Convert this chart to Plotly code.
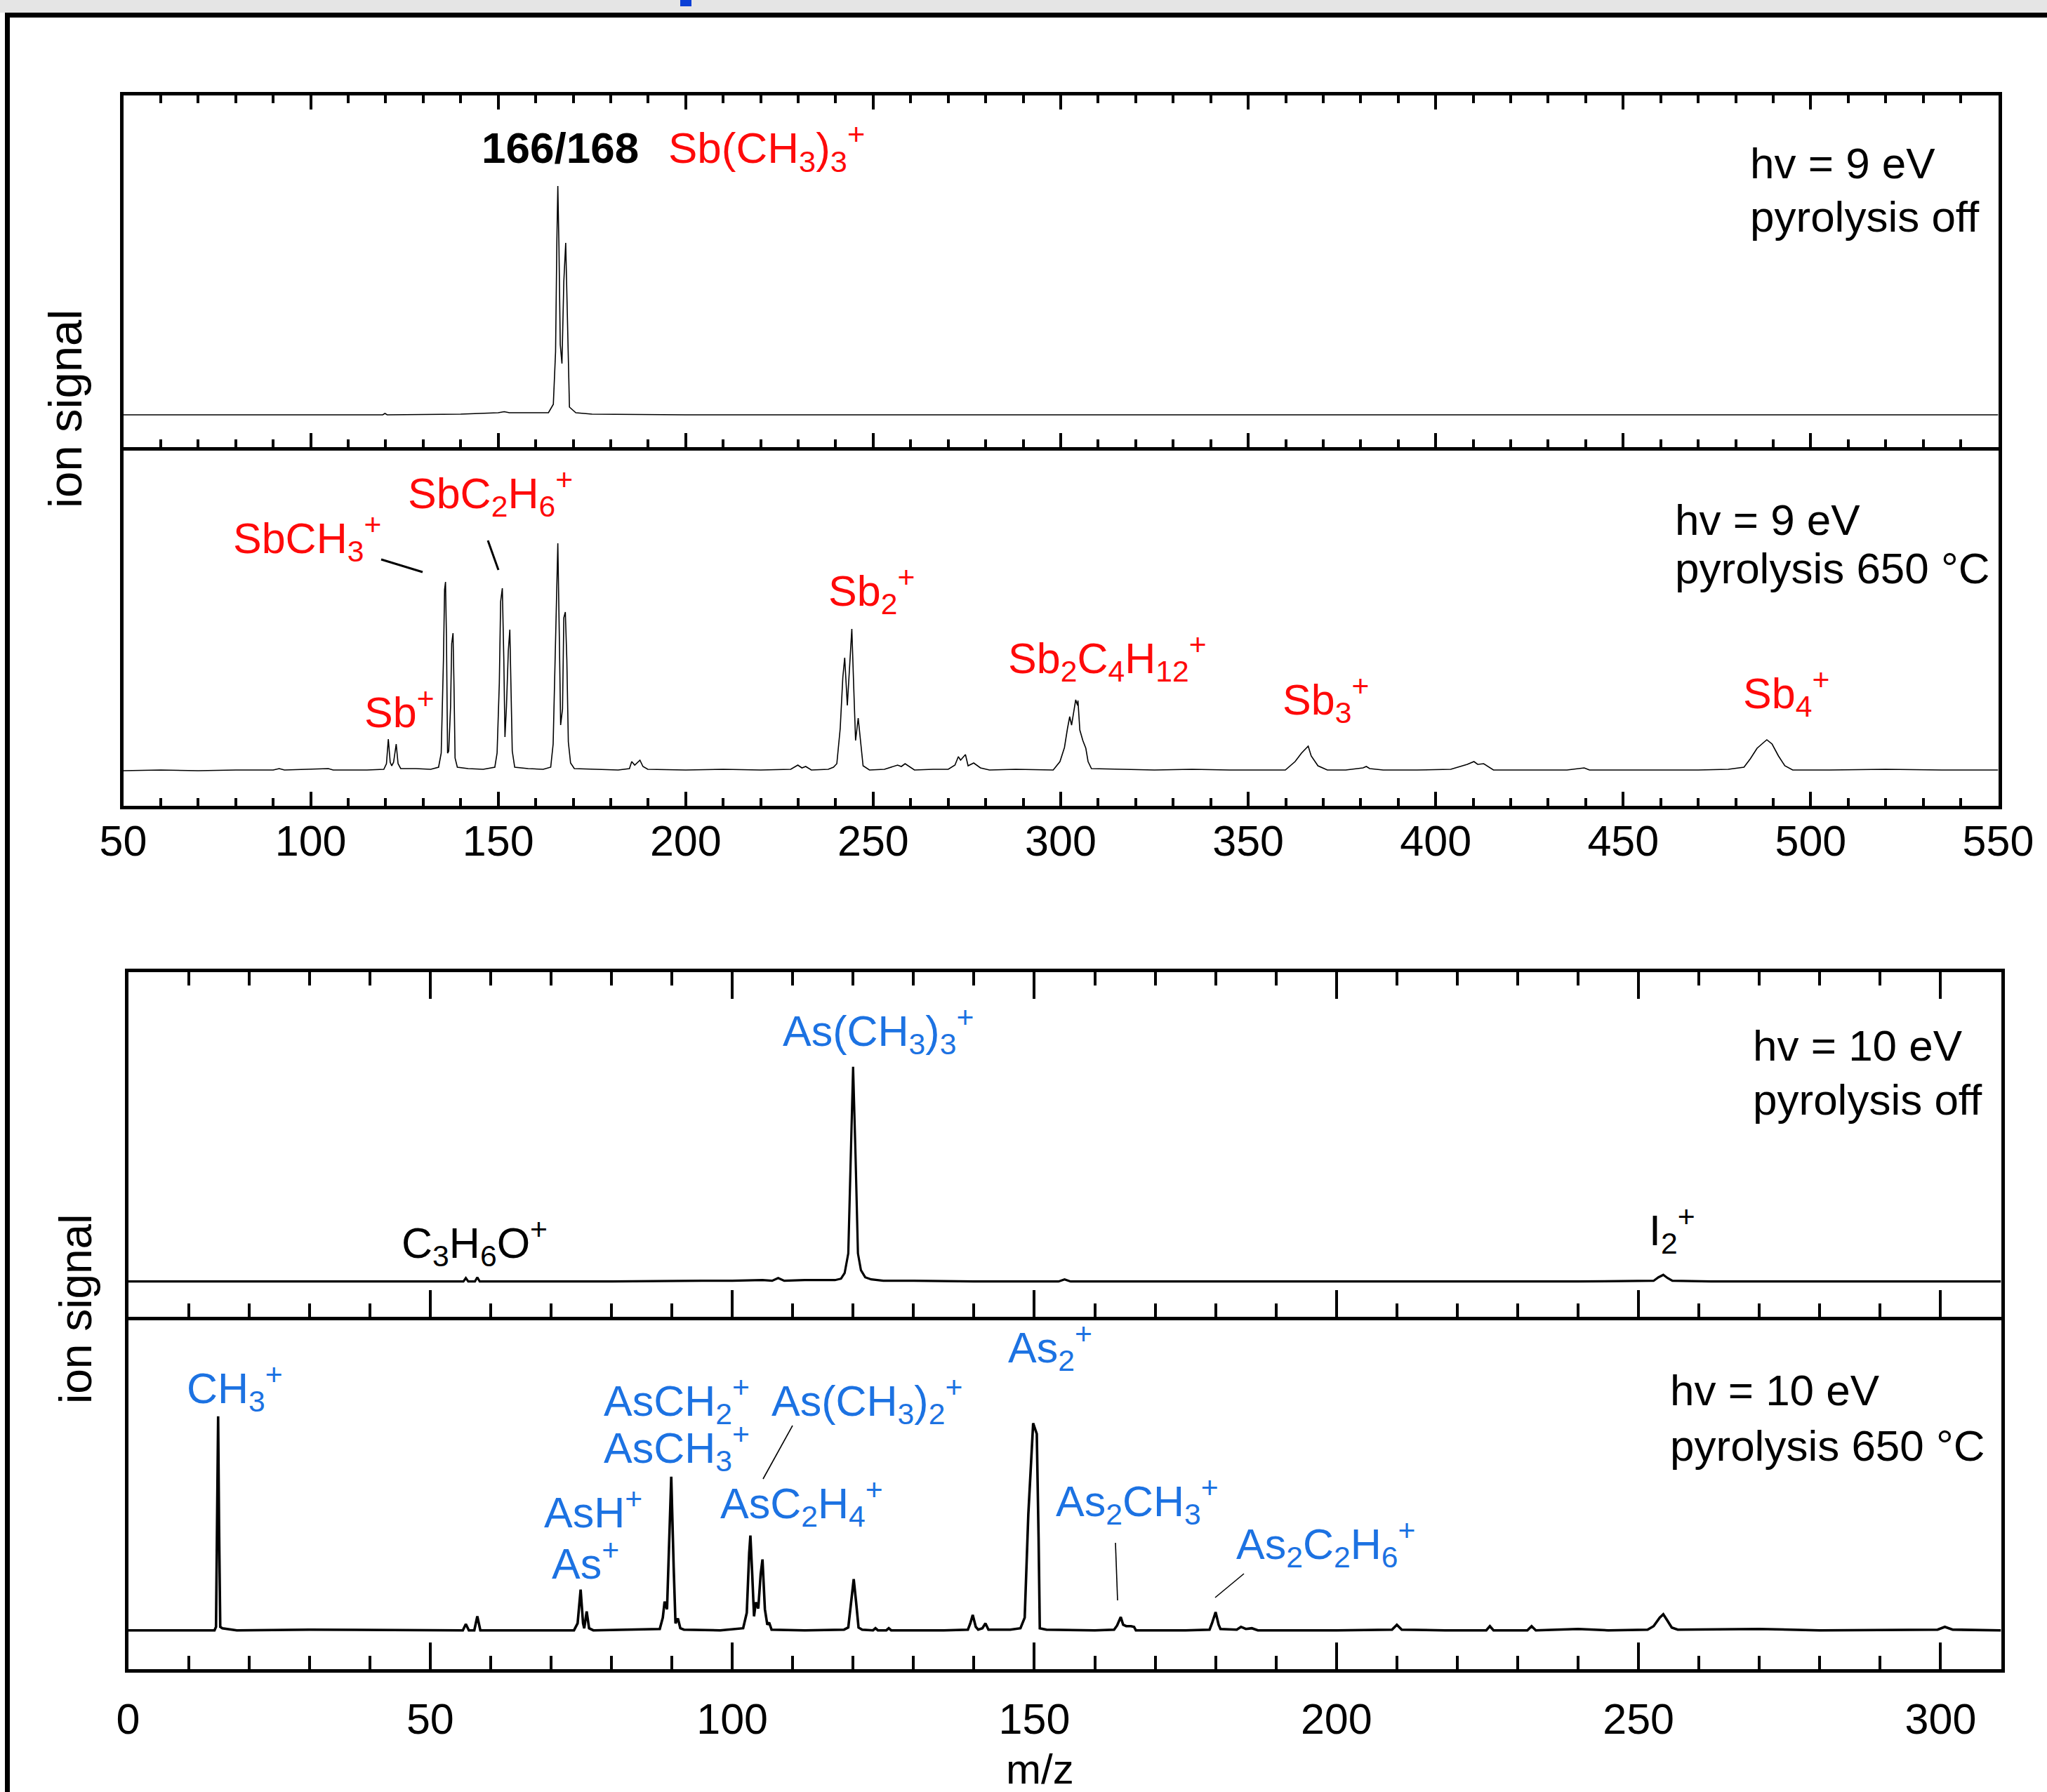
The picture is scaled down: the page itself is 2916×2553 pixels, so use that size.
import plotly.graph_objects as go

# ---------------- data (ion signal, arbitrary units, baseline = 0) ----------------
# Sb(CH3)3, hv = 9 eV, pyrolysis off
sb_off_mz = [50, 100, 119.2, 119.8, 120.4, 140, 146, 150, 151.6, 153, 160, 163.4, 164.7, 165.3,
             165.65, 165.9, 166.2, 166.55, 167.0, 167.5, 168.0, 168.4, 169.0, 170.7, 175, 200, 550]
sb_off_sig = [0, 0, 0, 2, 0, 1, 2, 3, 4.5, 3, 3, 3, 15, 90,
              250, 326, 240, 100, 73, 190, 245, 150, 11, 3, 1, 0, 0]

# Sb(CH3)3, hv = 9 eV, pyrolysis 650 C
sb_650_mz = [50, 60, 70, 80, 90, 91.6, 93, 104.7, 106, 115, 119.5,
             120.2, 120.7, 121.2, 121.6, 122.1, 122.8, 123.3, 124,
             128, 132, 134.1, 134.8, 135.4, 135.7, 135.95, 136.2, 136.5, 136.8, 137.3, 137.6, 137.95, 138.2, 138.5, 139.1,
             142, 146, 149.1, 149.7, 150.3, 150.65, 151.1, 151.5, 151.8, 152.2, 152.7, 153.1, 153.4, 153.75, 154.4,
             158, 162, 164.0, 164.65, 165.3, 165.9, 166.3, 166.65, 167.15, 167.5, 167.9, 168.3, 168.7, 169.3, 170.3,
             176, 182, 185, 185.6, 186.4, 187.8, 188.6, 189.9,
             200, 210, 220, 228, 229.9, 231, 232, 233.5,
             238, 239.4, 240.3, 241.2, 241.9, 242.4, 243.1, 243.7, 244.3, 244.8, 245.3, 246.0, 246.6, 247.3, 249,
             253, 256.5, 257.5, 258.5, 259.3, 261, 266, 270, 271.8, 272.7, 273.3, 274.6, 275.3, 276.8, 278.6, 281,
             288, 294, 298, 299.8, 301, 301.8, 302.4, 302.9, 304.0, 304.5, 304.6, 305.1, 305.9, 306.7, 307.3, 308.2,
             315, 325, 335, 345, 355, 359.9, 362.5, 364.2, 366.0, 366.8, 368.6, 371.1,
             376, 380.6, 381.5, 382.4, 386, 395, 404, 408.4, 410.2, 411.2, 412.8, 415.4,
             425, 435, 439.6, 441, 455, 470, 478, 482.2, 483.9, 485.7, 487.4, 488.3, 489.7, 491.4, 493.1, 495.2,
             505, 520, 535, 550]
sb_650_sig = [0, 1, 0, 1, 1, 3, 1, 3, 1, 1, 2,
              10, 45, 12, 7, 12, 38, 10, 3,
              3, 2, 5, 25, 158, 258, 269, 191, 25, 28, 91, 181, 196, 125, 18, 5,
              3, 2, 5, 25, 125, 241, 260, 158, 48, 91, 171, 201, 125, 28, 5,
              3, 2, 5, 38, 191, 324, 191, 65, 88, 218, 226, 158, 41, 11, 3,
              2, 1, 3, 13, 8, 15, 6, 2,
              1, 2, 1, 2, 8, 4, 6, 1,
              2, 5, 10, 60, 133, 161, 93, 150, 202, 120, 43, 75, 40, 7, 1,
              2, 8, 6, 10, 7, 1, 2, 2, 8, 20, 15, 23, 7, 11, 4, 1,
              2, 1, 1, 13, 33, 60, 77, 65, 101, 93, 100, 58, 43, 32, 13, 3,
              2, 1, 2, 1, 1, 1, 13, 25, 35, 21, 7, 1,
              1, 4, 6, 3, 1, 1, 2, 9, 13, 9, 10, 1,
              1, 1, 4, 1, 1, 1, 2, 5, 17, 32, 40, 44, 38, 21, 7, 1,
              1, 2, 1, 1]

# As(CH3)3, hv = 10 eV, pyrolysis off
as_off_mz = [0, 30, 55.5, 55.9, 56.3, 57.4, 57.8, 58.2, 80, 95, 100, 105, 106.6, 107.6, 108.6, 112, 116,
             117.0, 118.0, 118.6, 119.2, 119.6, 120.0, 120.4, 120.8, 121.3, 122.0, 123, 125, 130, 140,
             154, 155, 156, 200, 240, 252.5, 253.3, 254.1, 254.8, 255.6, 262, 310]
as_off_sig = [0, 0, 0, 5, 0, 0, 6, 0, 0, 1, 1, 2, 1, 5, 1, 2, 2,
              2, 4, 12, 40, 180, 306, 180, 40, 16, 6, 3, 1, 1, 0,
              0, 3, 0, 0, 0, 1, 6, 9.5, 5, 1, 0, 0]

# As(CH3)3, hv = 10 eV, pyrolysis 650 C
as_650_mz = [0, 10, 14.3, 14.55, 14.75, 14.9, 15.05, 15.25, 15.6, 16.5, 18, 30, 45,
             55.4, 55.9, 56.4, 57.3, 57.8, 58.3, 66,
             73.8, 74.4, 74.9, 75.3, 75.5, 75.9, 76.3, 77, 85,
             88.0, 88.5, 88.8, 89.2, 89.6, 89.9, 90.3, 90.6, 91.0, 91.4, 92, 98,
             101.8, 102.4, 102.8, 103.0, 103.3, 103.6, 103.9, 104.3, 104.7, 105.0, 105.4, 105.8, 106.1, 106.5, 112,
             118.5, 119.2, 119.7, 120.1, 120.5, 120.9, 121.5, 123.3, 123.7, 124.1, 125.5, 125.9, 126.3, 135,
             139.0, 139.4, 139.8, 140.3, 140.7, 141.4, 141.9, 142.4, 146,
             147.7, 148.4, 149.0, 149.8, 150.4, 150.7, 150.9, 152, 160,
             163.2, 163.7, 164.3, 164.7, 165.2, 166.0, 166.5, 166.8, 175,
             179.0, 179.4, 180.0, 180.5, 180.8, 183.5, 184.2, 185, 186, 187, 200,
             209.2, 210, 210.8, 218, 224.8, 225.4, 226, 231.6, 232.3, 233, 240, 245,
             251.5, 252.5, 253.5, 254.1, 254.7, 255.5, 256.5, 270, 280, 299.5, 300.7, 302, 310]
as_650_sig = [0, 0, 0, 5, 150, 305, 150, 5, 3, 2, 0, 1, 0,
              0, 9, 0, 0, 20, 0, 0,
              0, 10, 58, 10, 3, 27, 3, 0, 1,
              2, 18, 41, 30, 150, 219, 90, 10, 17, 3, 1, 0,
              3, 25, 110, 135, 80, 20, 40, 31, 80, 101, 30, 8, 11, 1, 0,
              1, 4, 40, 73, 40, 4, 1, 0, 3, 0, 0, 3, 0, 0,
              1, 10, 22, 5, 1, 3, 10, 1, 1,
              3, 18, 165, 295, 280, 132, 3, 1, 0,
              1, 7, 19, 8, 6, 6, 5, 0, 0,
              1, 10, 26, 8, 2, 1, 5, 2, 3, 0, 0,
              1, 8, 1, 0, 0, 6, 0, 0, 6, 0, 2, 0,
              1, 6, 18, 23, 15, 4, 1, 2, 0, 1, 5, 1, 0]

sb_ticks = [50, 100, 150, 200, 250, 300, 350, 400, 450, 500, 550]
as_ticks = [0, 50, 100, 150, 200, 250, 300]

# ---------------- layout helpers ----------------
W, H = 2916, 2553
FONT = "Liberation Sans, Arial, sans-serif"
RED = "#fe0a0a"
BLUE = "#1c72e2"
LW = 5


def px(x):
    return x / W


def py(y):
    return 1 - y / H


# frame line centres (pixels)
SB_L, SB_R, SB_T, SB_M, SB_B = 173, 2849, 133, 639, 1150
AS_L, AS_R, AS_T, AS_M, AS_B = 180, 2853, 1382, 1878, 2380
h = LW / 2

fig = go.Figure()
fig.add_trace(go.Scatter(x=sb_off_mz, y=sb_off_sig, mode="lines", line=dict(color="black", width=1.6),
                         xaxis="x", yaxis="y", showlegend=False, hoverinfo="skip"))
fig.add_trace(go.Scatter(x=sb_650_mz, y=sb_650_sig, mode="lines", line=dict(color="black", width=1.6),
                         xaxis="x2", yaxis="y2", showlegend=False, hoverinfo="skip"))
fig.add_trace(go.Scatter(x=as_off_mz, y=as_off_sig, mode="lines", line=dict(color="black", width=3.2),
                         xaxis="x3", yaxis="y3", showlegend=False, hoverinfo="skip"))
fig.add_trace(go.Scatter(x=as_650_mz, y=as_650_sig, mode="lines", line=dict(color="black", width=3.6),
                         xaxis="x4", yaxis="y4", showlegend=False, hoverinfo="skip"))


def xax(dom, rng, ticks, show_labels, mirror, major_len, minor_len, standoff):
    d = dict(domain=dom, range=rng, showgrid=False, zeroline=False, showline=True, linecolor="black",
             linewidth=LW, mirror=mirror, ticks="inside", ticklen=major_len, tickwidth=4, tickcolor="black",
             tickvals=ticks, showticklabels=show_labels, automargin=False,
             tickfont=dict(family=FONT, size=61, color="black"),
             minor=dict(ticks="inside", ticklen=minor_len, tickwidth=3.5, tickcolor="black",
                        dtick=10, tick0=0, showgrid=False))
    if show_labels:
        d["ticklabelstandoff"] = standoff
    return d


def yax(top_px, bot_px, base_px):
    t = top_px
    b = bot_px
    return dict(domain=[py(b), py(t)], range=[-(b - base_px), base_px - t], showgrid=False, zeroline=False,
                showline=True, linecolor="black", linewidth=LW, mirror=True, ticks="", showticklabels=False,
                automargin=False)


sb_xdom = [px(SB_L + h), px(SB_R - h)]
as_xdom = [px(AS_L + h), px(AS_R - h)]

layout = dict(
    width=W, height=H, margin=dict(l=0, r=0, t=0, b=0, pad=0, autoexpand=False),
    paper_bgcolor="white", plot_bgcolor="rgba(0,0,0,0)", showlegend=False,
    font=dict(family=FONT, color="black"),
    xaxis=xax(sb_xdom, [50, 550], sb_ticks, False, "ticks", 20, 11, 0),
    xaxis2=xax(sb_xdom, [50, 550], sb_ticks, True, False, 20, 11, -7),
    xaxis3=xax(as_xdom, [0, 310], as_ticks, False, "ticks", 38, 19, 0),
    xaxis4=xax(as_xdom, [0, 310], as_ticks, True, False, 38, 19, 14),
    yaxis=yax(SB_T + h, SB_M - h, 591),
    yaxis2=yax(SB_M + h, SB_B - h, 1098),
    yaxis3=yax(AS_T + h, AS_M - h, 1825.7),
    yaxis4=yax(AS_M + h, AS_B - h, 2322.7),
)
layout["xaxis"]["anchor"] = "y"
layout["xaxis2"]["anchor"] = "y2"
layout["xaxis3"]["anchor"] = "y3"
layout["xaxis4"]["anchor"] = "y4"
layout["yaxis"]["anchor"] = "x"
layout["yaxis2"]["anchor"] = "x2"
layout["yaxis3"]["anchor"] = "x3"
layout["yaxis4"]["anchor"] = "x4"
fig.update_layout(**layout)

anns = []


def lab(text, x_left, y_base, size=61, color="black"):
    anns.append(dict(text=text, x=px(x_left), y=py(y_base - 0.3465 * size), xref="paper", yref="paper",
                     xanchor="left", yanchor="middle", showarrow=False,
                     font=dict(family=FONT, size=size, color=color)))


# Sb, pyrolysis off
lab("<b>166/168</b>", 684, 232, 62)
lab("Sb(CH<sub>3</sub>)<sub>3</sub><sup>+</sup>", 950, 232, 62, RED)
lab("hv = 9 eV", 2491, 254, 62)
lab("pyrolysis off", 2491, 330, 62)
# Sb, pyrolysis 650
lab("SbCH<sub>3</sub><sup>+</sup>", 330, 787, 61, RED)
lab("SbC<sub>2</sub>H<sub>6</sub><sup>+</sup>", 579, 723, 61, RED)
lab("Sb<sup>+</sup>", 517, 1031, 61, RED)
lab("Sb<sub>2</sub><sup>+</sup>", 1178, 862, 61, RED)
lab("Sb<sub>2</sub>C<sub>4</sub>H<sub>12</sub><sup>+</sup>", 1434, 958, 61, RED)
lab("Sb<sub>3</sub><sup>+</sup>", 1825, 1017, 61, RED)
lab("Sb<sub>4</sub><sup>+</sup>", 2481, 1008, 61, RED)
lab("hv = 9 eV", 2384, 762, 62)
lab("pyrolysis 650 °C", 2384, 831, 62)
# As, pyrolysis off
lab("As(CH<sub>3</sub>)<sub>3</sub><sup>+</sup>", 1113, 1489, 61, BLUE)
lab("C<sub>3</sub>H<sub>6</sub>O<sup>+</sup>", 570, 1791, 61)
lab("I<sub>2</sub><sup>+</sup>", 2347, 1773, 61)
lab("hv = 10 eV", 2495, 1511, 62)
lab("pyrolysis off", 2495, 1588, 62)
# As, pyrolysis 650
lab("CH<sub>3</sub><sup>+</sup>", 264, 1998, 61, BLUE)
lab("AsCH<sub>2</sub><sup>+</sup>", 858, 2016, 61, BLUE)
lab("AsCH<sub>3</sub><sup>+</sup>", 858, 2083, 61, BLUE)
lab("As(CH<sub>3</sub>)<sub>2</sub><sup>+</sup>", 1097, 2016, 61, BLUE)
lab("AsC<sub>2</sub>H<sub>4</sub><sup>+</sup>", 1024, 2162, 61, BLUE)
lab("AsH<sup>+</sup>", 773, 2171, 61, BLUE)
lab("As<sup>+</sup>", 784, 2244, 61, BLUE)
lab("As<sub>2</sub><sup>+</sup>", 1434, 1940, 61, BLUE)
lab("As<sub>2</sub>CH<sub>3</sub><sup>+</sup>", 1502, 2159, 61, BLUE)
lab("As<sub>2</sub>C<sub>2</sub>H<sub>6</sub><sup>+</sup>", 1759, 2220, 61, BLUE)
lab("hv = 10 eV", 2377, 2002, 62)
lab("pyrolysis 650 °C", 2377, 2081, 62)

# axis titles
anns.append(dict(text="ion signal", x=px(93), y=py(583), xref="paper", yref="paper", textangle=-90,
                 xanchor="center", yanchor="middle", showarrow=False, font=dict(family=FONT, size=67)))
anns.append(dict(text="ion signal", x=px(108), y=py(1865), xref="paper", yref="paper", textangle=-90,
                 xanchor="center", yanchor="middle", showarrow=False, font=dict(family=FONT, size=64)))
anns.append(dict(text="m/z", x=px(1481), y=py(2541 - 0.3465 * 60), xref="paper", yref="paper",
                 xanchor="center", yanchor="middle", showarrow=False, font=dict(family=FONT, size=60)))
fig.update_layout(annotations=anns)

shapes = []


def seg(x0, y0, x1, y1, w):
    shapes.append(dict(type="line", xref="paper", yref="paper", x0=px(x0), y0=py(y0), x1=px(x1), y1=py(y1),
                       line=dict(color="black", width=w)))


def rect(x0, y0, x1, y1, color):
    shapes.append(dict(type="rect", xref="paper", yref="paper", x0=px(x0), y0=py(y0), x1=px(x1), y1=py(y1),
                       fillcolor=color, line=dict(width=0), layer="above"))


# leader lines
seg(543, 797, 602, 815, 3)
seg(695, 770, 710, 812, 3)
seg(1129, 2031, 1087, 2107, 1.6)
seg(1589, 2198, 1592, 2280, 1.6)
seg(1772, 2242, 1731, 2276, 1.6)

# page decoration (screen frame)
rect(0, 0, W, 18, "#e5e5e5")
rect(7, 18, W, 25, "black")
rect(7, 18, 14, H, "black")
rect(969, 0, 985, 9, "#0a3fd6")

fig.update_layout(shapes=shapes)

fig.write_html("out.html", config={"displayModeBar": False},
               post_script="document.body.style.margin='0';")
